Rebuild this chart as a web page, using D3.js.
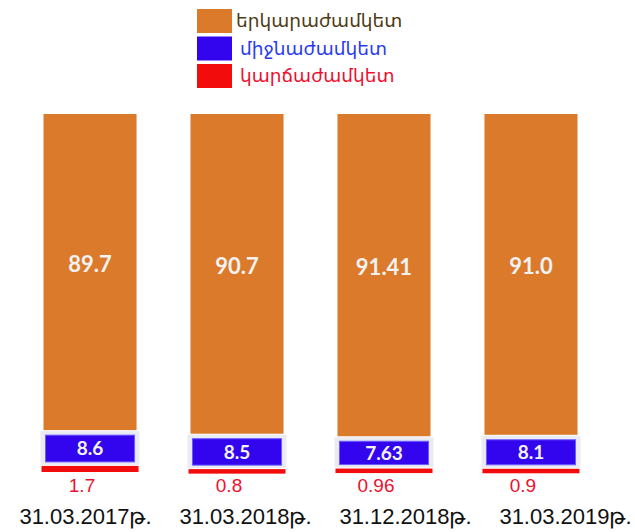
<!DOCTYPE html>
<html>
<head>
<meta charset="utf-8">
<script src="https://cdn.jsdelivr.net/npm/d3@7"></script>
<style>
  body { margin: 0; background: #fff; }
  svg { display: block; }
</style>
</head>
<body>
<div id="chart"></div>
<script>
// Data
const dates = ["31.03.2017թ.", "31.03.2018թ.", "31.12.2018թ.", "31.03.2019թ."];
const longTerm = [89.7, 90.7, 91.41, 91.0];
const midTerm = [8.6, 8.5, 7.63, 8.1];
const shortTerm = [1.7, 0.8, 0.96, 0.9];
const longLabels = ["89.7", "90.7", "91.41", "91.0"];
const midLabels = ["8.6", "8.5", "7.63", "8.1"];
const shortLabels = ["1.7", "0.8", "0.96", "0.9"];
const seriesNames = ["երկարաժամկետ", "միջնաժամկետ", "կարճաժամկետ"];

const orange = "#dc7a2c";
const blue = "#3205ee";
const red = "#f20c0c";

const width = 635;
const height = 532;

const svg = d3
  .select("#chart")
  .append("svg")
  .attr("width", width)
  .attr("height", height);

// Scales
const xScale = d3
  .scaleBand()
  .domain(dates)
  .range([43.5, 577.5])
  .paddingInner(0.367)
  .paddingOuter(0);

const labelScale = d3.scalePoint().domain(dates).range([85, 565]);

const yScale = d3.scaleLinear().domain([0, 100]).range([472, 114]);

const bw = xScale.bandwidth();

// Bars
dates.forEach((d, i) => {
  const x0 = xScale(d);
  const r = shortTerm[i];
  const b = midTerm[i];

  // long-term (orange, on top)
  const oTop = yScale(100);
  const oBottom = yScale(r + b) - 5;
  svg
    .append("rect")
    .attr("x", x0)
    .attr("y", oTop)
    .attr("width", bw)
    .attr("height", oBottom - oTop)
    .attr("fill", orange);

  svg
    .append("text")
    .attr("x", x0 + bw / 2)
    .attr("y", (oTop + oBottom) / 2 - 8)
    .attr("dy", "0.35em")
    .attr("text-anchor", "middle")
    .attr("fill", "#f2f2f2")
    .style("font-family", "Lato, 'Open Sans', sans-serif")
    .style("font-weight", "bold")
    .style("font-size", "22px")
    .text(longLabels[i]);

  // mid-term (blue with light frame)
  const bTop = yScale(r + b) - 4;
  const bBottom = yScale(r) - 1;
  svg
    .append("rect")
    .attr("x", x0 - 3)
    .attr("y", bTop)
    .attr("width", bw + 6)
    .attr("height", bBottom - bTop)
    .attr("fill", "#ebebf4");

  svg
    .append("rect")
    .attr("x", x0 + 2)
    .attr("y", bTop + 4)
    .attr("width", bw - 4)
    .attr("height", bBottom - bTop - 7)
    .attr("fill", blue)
    .attr("stroke", "#6b5cff")
    .attr("stroke-width", 1);

  svg
    .append("text")
    .attr("x", x0 + bw / 2)
    .attr("y", (bTop + 4 + bBottom - 3) / 2)
    .attr("dy", "0.35em")
    .attr("text-anchor", "middle")
    .attr("fill", "#f2f2f2")
    .style("font-family", "Lato, 'Open Sans', sans-serif")
    .style("font-weight", "bold")
    .style("font-size", "19px")
    .text(midLabels[i]);

  // short-term (red, bottom)
  const rTop = yScale(r);
  svg
    .append("rect")
    .attr("x", x0 - 2)
    .attr("y", rTop)
    .attr("width", bw + 4)
    .attr("height", Math.max(yScale(0) - rTop, 4.5))
    .attr("fill", red);

  svg
    .append("text")
    .attr("x", x0 + bw / 2 - 8)
    .attr("y", yScale(0) + 20)
    .attr("text-anchor", "middle")
    .attr("fill", "#ee1030")
    .style("font-family", "'Liberation Sans', Arial, sans-serif")
    .style("font-size", "19px")
    .text(shortLabels[i]);
});

// X axis labels
const xAxis = svg
  .append("g")
  .attr("transform", "translate(0,524)")
  .call(d3.axisBottom(labelScale).tickSize(0));
xAxis.select(".domain").remove();
xAxis
  .selectAll("text")
  .attr("y", 0)
  .attr("dy", 0)
  .attr("fill", "#111")
  .style("font-family", "'Liberation Sans', Arial, sans-serif")
  .style("font-size", "22px");

// Legend
const legendColors = [orange, blue, red];
const legendText = ["#4f3a14", "#2b3bef", "#ee1030"];
const legendY = d3.scalePoint().domain(seriesNames).range([21, 76]);

seriesNames.forEach((name, i) => {
  const cy = legendY(name);
  svg
    .append("rect")
    .attr("x", 197)
    .attr("y", cy - 12)
    .attr("width", 35)
    .attr("height", 24)
    .attr("fill", legendColors[i]);

  svg
    .append("text")
    .attr("x", i === 0 ? 236 : 240)
    .attr("y", cy)
    .attr("dy", "0.35em")
    .attr("fill", legendText[i])
    .style("font-family", "'Noto Sans', 'DejaVu Sans', sans-serif")
    .style("font-size", "18.5px")
    .text(name);
});
</script>
</body>
</html>
